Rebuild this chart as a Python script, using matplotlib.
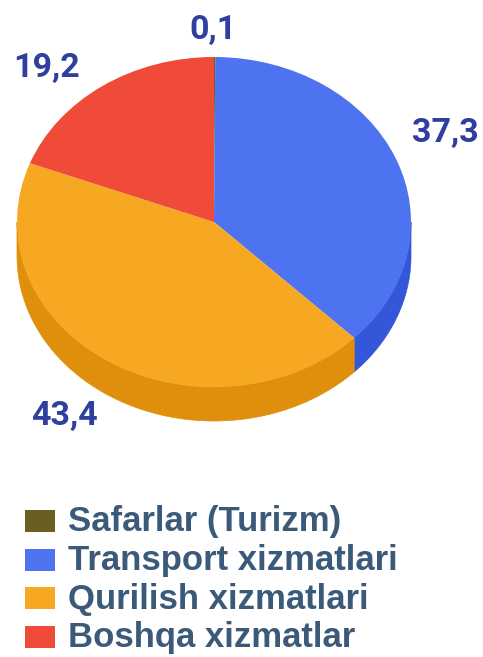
import numpy as np
import matplotlib.pyplot as plt
from matplotlib.patches import Polygon, Rectangle
from matplotlib.transforms import Affine2D

categories = ['Safarlar (Turizm)', 'Transport xizmatlari', 'Qurilish xizmatlari', 'Boshqa xizmatlar']
values = [0.1, 37.3, 43.4, 19.2]
labels = ['0,1', '37,3', '43,4', '19,2']
top_colors = ['#6b5e22', '#4e73f0', '#f7a823', '#f04a38']
side_colors = ['#564b18', '#3457d9', '#df8f0b', '#c83a2a']

# geometry of the tilted pie, in pixel coords
cx, cy, rx, ry, depth = 214, 222, 197, 165, 34

fig = plt.figure(figsize=(4.83, 6.57), dpi=100)
ax = fig.add_axes([0, 0, 1, 1])

wedges, _ = ax.pie(values, colors=top_colors, startangle=90, counterclock=False,
                   wedgeprops=dict(linewidth=0))
tr = Affine2D().scale(rx, -ry).translate(cx, cy) + ax.transData
for w in wedges:
    w.set_transform(tr)
    w.set_zorder(3)

# side walls (front half only)
for w, sc in zip(wedges, side_colors):
    a1, a2 = w.theta1 % 360, w.theta2 % 360
    if a2 <= a1:
        a2 += 360
    for off in (0, 360):
        lo, hi = max(a1, 180 + off), min(a2, 360 + off)
        if hi <= lo:
            continue
        t = np.radians(np.linspace(lo, hi, 80))
        xs = cx + rx * np.cos(t)
        ys = cy - ry * np.sin(t)
        pts = np.concatenate([np.column_stack([xs, ys]),
                              np.column_stack([xs[::-1], ys[::-1] + depth])])
        ax.add_patch(Polygon(pts, closed=True, facecolor=sc, edgecolor=sc, lw=0.5, zorder=2))

# value labels
lab_pos = [(213, 30), (445, 133), (65, 416), (47, 68)]
for (x, y), s in zip(lab_pos, labels):
    ax.text(x, y, s, ha='center', va='center', fontsize=24.5, fontweight='bold',
            family=['Roboto', 'DejaVu Sans'], color='#2e3f9f')

# legend
for i, (c, name) in enumerate(zip(top_colors, categories)):
    y = 521 + i * 38.5
    ax.add_patch(Rectangle((25, y - 11), 30, 22, facecolor=c, edgecolor='none'))
    ax.text(68, y + 1, name, ha='left', va='center', fontsize=25, fontweight='bold',
            family=['Liberation Sans', 'DejaVu Sans'], color='#3b5a7a')

ax.set_xlim(0, 483)
ax.set_ylim(657, 0)
ax.set_aspect('auto')
ax.axis('off')

plt.savefig('out.png', dpi=100)
